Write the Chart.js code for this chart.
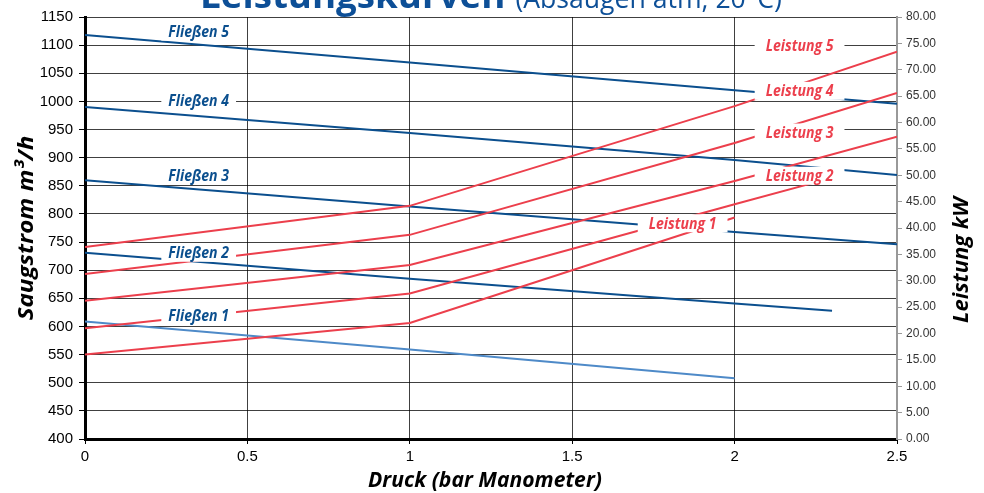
<!DOCTYPE html>
<html>
<head>
<meta charset="utf-8">
<script src="https://cdn.jsdelivr.net/npm/chart.js"></script>
<style>
  html, body { margin: 0; padding: 0; background: #fff; }
  #wrap { width: 984px; height: 493px; }
</style>
</head>
<body>
<div id="wrap"><canvas id="kurven" width="984" height="493"></canvas></div>
<script>
// Werte
const druckAchse = [0, 0.5, 1, 1.5, 2, 2.5];
const druck1 = [0, 1, 2];
const druck2 = [0, 1, 2, 2.3];
const druck345 = [0, 1, 2, 2.5];

const fliessen1 = [609, 559, 508];
const fliessen2 = [731, 685, 641, 628];
const fliessen3 = [860, 813, 768, 746];
const fliessen4 = [990, 944, 896, 869];
const fliessen5 = [1118, 1069, 1020, 996];

const leistung1 = [16.0, 22.0, 42.0];
const leistung2 = [21.0, 27.6, 44.5, 49.5];
const leistung3 = [26.2, 33.0, 48.9, 57.3];
const leistung4 = [31.3, 38.7, 56.1, 65.6];
const leistung5 = [36.4, 44.2, 63.1, 73.4];

// Beschriftungen: [text, x, y, achse]
const beschriftungen = [
    ['Fließen 5', 0.35, 1124, 'y'],
    ['Fließen 4', 0.35, 1001, 'y'],
    ['Fließen 3', 0.35, 868, 'y'],
    ['Fließen 2', 0.35, 731, 'y'],
    ['Fließen 1', 0.35, 619, 'y'],
    ['Leistung 5', 2.2, 74.6, 'y2'],
    ['Leistung 4', 2.2, 66.0, 'y2'],
    ['Leistung 3', 2.2, 58.1, 'y2'],
    ['Leistung 2', 2.2, 49.9, 'y2'],
    ['Leistung 1', 1.84, 40.9, 'y2']
];

const BLAU = '#0b4f8e';
const HELLBLAU = '#4e8ac8';
const ROT = '#ec3f4c';
const LABEL_FONT = 'italic bold 16px "Open Sans", "Noto Sans", sans-serif';
const LABEL_STAUCHUNG = 0.88;

function punkte(xs, ys) {
    return xs.map((x, i) => ({ x: x, y: ys[i] }));
}

function linie(name, xs, ys, farbe, achse) {
    return {
        label: name,
        data: punkte(xs, ys),
        borderColor: farbe,
        backgroundColor: farbe,
        borderWidth: 2,
        pointRadius: 0,
        tension: 0,
        yAxisID: achse
    };
}

// schmaler Text (Myriad-artig) durch horizontale Stauchung
function schmalerText(ctx, text, x, y, stauchung) {
    ctx.save();
    ctx.translate(x, y);
    ctx.scale(stauchung, 1);
    ctx.fillText(text, 0, 0);
    ctx.restore();
}

const beschriftungPlugin = {
    id: 'beschriftung',
    afterDatasetsDraw(chart) {
        const ctx = chart.ctx;
        const xs = chart.scales.x;
        ctx.save();
        ctx.font = LABEL_FONT;
        ctx.textBaseline = 'middle';
        ctx.textAlign = 'center';
        beschriftungen.forEach(([text, x, y, achse]) => {
            const px = xs.getPixelForValue(x);
            const py = chart.scales[achse].getPixelForValue(y);
            const w = ctx.measureText(text).width * LABEL_STAUCHUNG;
            const rand = achse === 'y' ? 7 : 11;
            ctx.fillStyle = '#fff';
            ctx.fillRect(px - w / 2 - rand, py - 9, w + 2 * rand, 18);
            ctx.fillStyle = achse === 'y' ? BLAU : ROT;
            schmalerText(ctx, text, px, py + 1, LABEL_STAUCHUNG);
        });
        ctx.restore();
    },
    afterDraw(chart) {
        const ctx = chart.ctx;
        ctx.save();
        ctx.fillStyle = '#000';
        ctx.textAlign = 'center';
        ctx.textBaseline = 'middle';
        ctx.font = 'italic bold 22px "Open Sans", "Noto Sans", sans-serif';
        // Achsentitel
        schmalerText(ctx, 'Druck (bar Manometer)', 485, 481, 0.96);
        ctx.save();
        ctx.translate(27, 228);
        ctx.rotate(-Math.PI / 2);
        schmalerText(ctx, 'Saugstrom m³/h', 0, 0, 1.1);
        ctx.restore();
        ctx.save();
        ctx.translate(962, 260);
        ctx.rotate(-Math.PI / 2);
        schmalerText(ctx, 'Leistung kW', 0, 0, 1.0);
        ctx.restore();
        // Titel (oben abgeschnitten)
        ctx.textAlign = 'left';
        ctx.textBaseline = 'alphabetic';
        ctx.fillStyle = '#0d4f97';
        ctx.font = 'bold 36px "Open Sans", "Noto Sans", sans-serif';
        const t1 = 'Leistungskurven';
        const w1 = ctx.measureText(t1).width * 1.02;
        schmalerText(ctx, t1, 200, 8, 1.02);
        ctx.font = '28px "Open Sans", "Noto Sans", sans-serif';
        schmalerText(ctx, '(Absaugen atm, 20°C)', 200 + w1 + 10, 8, 0.95);
        ctx.restore();
    }
};

function initKurven() {
    const canvas = document.getElementById('kurven');
    new Chart(canvas.getContext('2d'), {
        type: 'line',
        data: {
            datasets: [
                linie('Leistung 1', druck1, leistung1, ROT, 'y2'),
                linie('Leistung 2', druck2, leistung2, ROT, 'y2'),
                linie('Leistung 3', druck345, leistung3, ROT, 'y2'),
                linie('Leistung 4', druck345, leistung4, ROT, 'y2'),
                linie('Leistung 5', druck345, leistung5, ROT, 'y2'),
                linie('Fließen 1', druck1, fliessen1, HELLBLAU, 'y'),
                linie('Fließen 2', druck2, fliessen2, BLAU, 'y'),
                linie('Fließen 3', druck345, fliessen3, BLAU, 'y'),
                linie('Fließen 4', druck345, fliessen4, BLAU, 'y'),
                linie('Fließen 5', druck345, fliessen5, BLAU, 'y')
            ]
        },
        options: {
            responsive: false,
            animation: false,
            layout: { padding: { top: 17, left: 0, right: 0, bottom: 0 } },
            plugins: {
                legend: { display: false },
                tooltip: { enabled: false }
            },
            scales: {
                x: {
                    type: 'linear',
                    min: 0,
                    max: 2.5,
                    afterBuildTicks(scale) {
                        scale.ticks = druckAchse.map(v => ({ value: v }));
                    },
                    afterFit(scale) { scale.height = 54; },
                    border: { color: '#000', width: 3 },
                    grid: { color: 'rgba(0,0,0,0.75)', lineWidth: 1, tickLength: 5, tickColor: '#000' },
                    ticks: {
                        color: '#000',
                        padding: 4,
                        maxRotation: 0,
                        callback: v => String(v),
                        font: { family: '"Liberation Sans", Arial, sans-serif', size: 15 }
                    }
                },
                y: {
                    position: 'left',
                    min: 400,
                    max: 1150,
                    afterFit(scale) { scale.width = 85; },
                    border: { color: '#000', width: 3 },
                    grid: { color: 'rgba(0,0,0,0.75)', lineWidth: 1, tickLength: 6, tickColor: '#000' },
                    ticks: {
                        stepSize: 50,
                        color: '#000',
                        padding: 6,
                        callback: v => String(v),
                        font: { family: '"Liberation Sans", Arial, sans-serif', size: 15 }
                    }
                },
                y2: {
                    position: 'right',
                    min: 0,
                    max: 80,
                    afterFit(scale) { scale.width = 87; },
                    border: { color: '#999', width: 2 },
                    grid: { drawOnChartArea: false, tickLength: 5, tickColor: '#999' },
                    ticks: {
                        stepSize: 5,
                        color: '#333',
                        padding: 4,
                        callback: v => v.toFixed(2),
                        font: { family: '"Liberation Sans", Arial, sans-serif', size: 12 }
                    }
                }
            }
        },
        plugins: [beschriftungPlugin]
    });
}

if (document.readyState === 'loading') {
    document.addEventListener('DOMContentLoaded', initKurven);
} else {
    initKurven();
}
</script>
</body>
</html>
